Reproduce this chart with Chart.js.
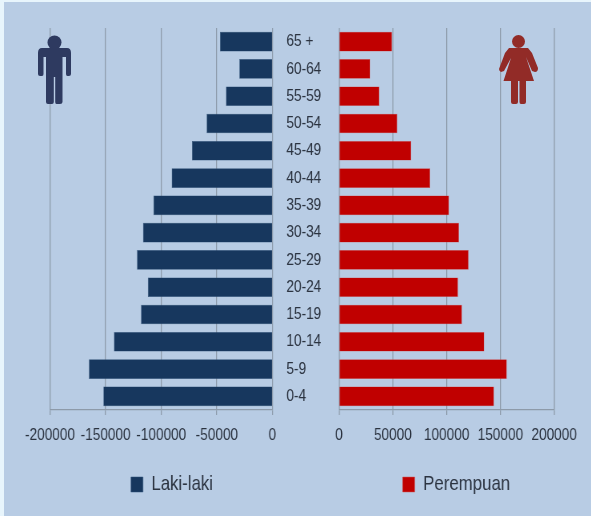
<!DOCTYPE html>
<html><head><meta charset="utf-8">
<script src="https://cdn.jsdelivr.net/npm/chart.js@4"></script>
<style>
html,body{margin:0;padding:0;background:#e8f5fc;width:591px;height:516px;overflow:hidden}
#panel{position:absolute;left:4px;top:2px;width:587px;height:514px;background:#b8cce4}
.wrap{position:absolute;top:0;height:505px;transform:scaleX(0.8);transform-origin:0 0}
svg{position:absolute}
</style></head><body>
<div id="panel"></div>
<div class="wrap" style="left:0;width:430px"><canvas id="left"></canvas></div>
<div class="wrap" style="left:321px;width:337.5px"><canvas id="right"></canvas></div>
<svg style="left:30px;top:30px" width="50" height="80" viewBox="0 0 50 80" fill="#2e3a60">
<circle cx="24.5" cy="12.500" r="7"/>
<path d="M12 18H37Q41 18 41 23V44Q41 46 39 46H37.5Q36 46 36 44V27H32.500V72Q32.500 74 30 74H26.500Q25.200 74 25.200 72V47H23.800V72Q23.800 74 22 74H18Q16 74 16 72V27H13.500V44Q13.500 46 12 46H10Q8 46 8 44V23Q8 18 12 18Z"/>
</svg>
<svg style="left:495px;top:30px" width="50" height="80" viewBox="0 0 50 80" fill="#922b27">
<circle cx="23.500" cy="11.500" r="6.500"/>
<path d="M14 18H33L37 23L43 38Q43 42 40 42L37 41L31 27L39 51H31V72Q31 74 29 74H26Q24.500 74 24.500 72V51H23V72Q23 74 21 74H18Q16 74 16 72V51H8.500L16 28L9 41L6 42Q4 41 4 39L10 23Z"/>
</svg>
<script>
const categories=["65 +","60-64","55-59","50-54","45-49","40-44","35-39","30-34","25-29","20-24","15-19","10-14","5-9","0-4"];
const lakiLaki=[-47200,-29800,-41800,-59200,-72400,-90600,-107000,-116400,-121800,-112000,-118200,-142500,-165000,-152000];
const perempuan=[49200,29000,37400,54200,67000,84700,102200,111500,120400,110600,114300,135000,156000,144000];
const FONT="'Liberation Sans',sans-serif";
const TXT="#2b3340", GRID="#8d9aa9";
Chart.defaults.animation=false;
Chart.defaults.responsive=true;
Chart.defaults.maintainAspectRatio=false;
function xAxis(min,max,padL,padR){return {
  type:"linear",min,max,
  border:{color:GRID,width:1.25},
  grid:{color:GRID,lineWidth:1.25,tickLength:5,drawTicks:true},
  ticks:{stepSize:50000,font:{family:FONT,size:17},color:TXT,maxRotation:0,padding:10,callback:v=>String(v),autoSkip:false},
  afterFit(s){s.height=64;s.paddingLeft=padL;s.paddingRight=padR;}
};}
function legend(){return {position:"bottom",labels:{font:{family:FONT,size:21},color:TXT,boxWidth:15,boxHeight:15,padding:0}};}
new Chart(document.getElementById("left"),{type:"bar",
  data:{labels:categories,datasets:[{label:"Laki-laki",data:lakiLaki,backgroundColor:"#17375e",borderColor:"#2f5178",borderWidth:0.5,barPercentage:0.72,categoryPercentage:1}]},
  options:{indexAxis:"y",layout:{padding:{top:28,left:0,right:0,bottom:0}},
    plugins:{legend:legend(),tooltip:{enabled:false}},
    scales:{x:xAxis(-200000,0,62.5,0),
      y:{position:"right",border:{display:false},grid:{display:false,drawTicks:false},
        ticks:{font:{family:FONT,size:17},color:TXT,crossAlign:"near",padding:17.500,autoSkip:false},
        afterFit(s){s.width=89.4;}}}}
});
new Chart(document.getElementById("right"),{type:"bar",
  data:{labels:categories,datasets:[{label:"Perempuan",data:perempuan,backgroundColor:"#c00000",borderColor:"#cf5a5a",borderWidth:0.5,barPercentage:0.72,categoryPercentage:1}]},
  options:{indexAxis:"y",layout:{padding:{top:28,left:0,right:0,bottom:0}},
    plugins:{legend:legend(),tooltip:{enabled:false}},
    scales:{x:xAxis(0,200000,22.5,46.9),y:{display:false}}}
});
</script>
</body></html>
